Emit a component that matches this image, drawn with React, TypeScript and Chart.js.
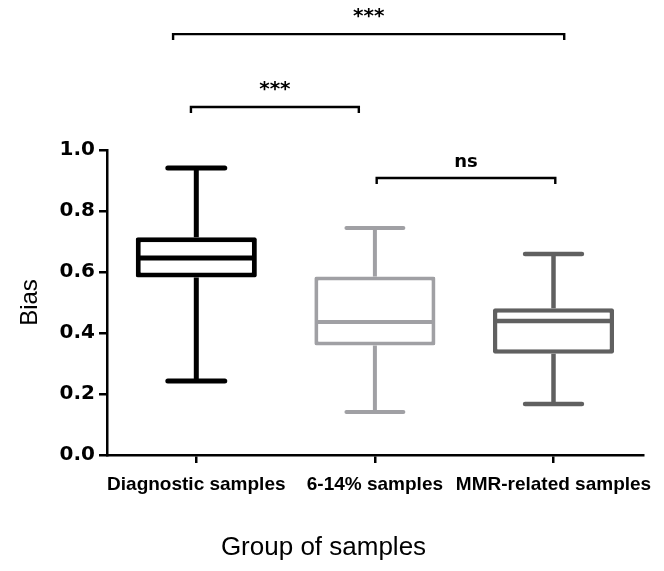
import React, { useEffect, useRef } from 'react';
import { Chart, registerables } from 'chart.js';

Chart.register(...registerables);

const categories = ['Diagnostic samples', '6-14% samples', 'MMR-related samples'];
const whiskerMin = [0.243, 0.141, 0.167];
const q1 = [0.582, 0.359, 0.332];
const medians = [0.646, 0.436, 0.439];
const q3 = [0.714, 0.585, 0.481];
const whiskerMax = [0.941, 0.744, 0.659];
const yTicks = [0, 0.2, 0.4, 0.6, 0.8, 1.0];

const boxColors = ['#000000', '#a0a0a4', '#606060'];
const lineWidths = [5, 4, 4.5];

const bracketStart = [-0.13, -0.03, 1.01];
const bracketEnd = [2.06, 0.91, 2.01];
const bracketLevel = [1.38, 1.141, 0.908];
const bracketLabels = ['***', '***', 'ns'];

const boxPlugin = {
  id: 'boxWhiskers',
  afterDatasetsDraw(chart: any) {
    const { ctx, scales } = chart;
    const x = scales.x;
    const y = scales.y;
    const meta = chart.getDatasetMeta(0);
    ctx.save();
    categories.forEach((_, i) => {
      const bar = meta.data[i];
      const cx = x.getPixelForValue(i);
      const half = bar.width / 2;
      const capHalf = half * 0.47;
      const lw = lineWidths[i];
      ctx.strokeStyle = boxColors[i];
      ctx.lineWidth = lw;
      const seg = (x1: number, y1: number, x2: number, y2: number) => {
        ctx.beginPath();
        ctx.moveTo(x1, y1);
        ctx.lineTo(x2, y2);
        ctx.stroke();
      };
      const yMax = y.getPixelForValue(whiskerMax[i]);
      const yMin = y.getPixelForValue(whiskerMin[i]);
      const yQ1 = y.getPixelForValue(q1[i]);
      const yQ3 = y.getPixelForValue(q3[i]);
      const yMed = y.getPixelForValue(medians[i]);
      ctx.lineCap = 'butt';
      seg(cx, yQ3, cx, yMax);
      seg(cx, yQ1, cx, yMin);
      seg(cx - half + lw / 2, yMed, cx + half - lw / 2, yMed);
      ctx.lineCap = 'round';
      seg(cx - capHalf, yMax, cx + capHalf, yMax);
      seg(cx - capHalf, yMin, cx + capHalf, yMin);
    });
    ctx.restore();
  },
};

const bracketPlugin = {
  id: 'sigBrackets',
  afterDraw(chart: any) {
    const { ctx, scales } = chart;
    const x = scales.x;
    const y = scales.y;
    ctx.save();
    ctx.strokeStyle = '#000';
    ctx.fillStyle = '#000';
    ctx.lineWidth = 2.4;
    ctx.lineCap = 'butt';
    ctx.lineJoin = 'miter';
    bracketLabels.forEach((label, i) => {
      const x1 = x.getPixelForValue(bracketStart[i]);
      const x2 = x.getPixelForValue(bracketEnd[i]);
      const yy = y.getPixelForValue(bracketLevel[i]);
      ctx.beginPath();
      ctx.moveTo(x1, yy + 6);
      ctx.lineTo(x1, yy);
      ctx.lineTo(x2, yy);
      ctx.lineTo(x2, yy + 6);
      ctx.stroke();
      ctx.textAlign = 'center';
      ctx.textBaseline = 'alphabetic';
      ctx.font = label === 'ns' ? 'bold 18px "DejaVu Sans"' : 'bold 20px "DejaVu Sans"';
      ctx.fillText(label, (x1 + x2) / 2, yy - (label === 'ns' ? 11 : 12));
    });
    ctx.restore();
  },
};

export default function App() {
  const canvasRef = useRef<HTMLCanvasElement | null>(null);

  useEffect(() => {
    if (!canvasRef.current) return;
    const titleFontSize = 26;
    const titlePadBottom = 8;
    const titleBox = titleFontSize * 1.2 + titlePadBottom;
    const chart = new Chart(canvasRef.current, {
      type: 'bar',
      data: {
        labels: categories,
        datasets: [
          {
            data: q1.map((v, i) => [v, q3[i]]) as any,
            backgroundColor: '#ffffff',
            borderColor: boxColors,
            borderWidth: lineWidths,
            borderSkipped: false,
            borderRadius: 2,
            barPercentage: 0.678,
            categoryPercentage: 1,
          },
        ],
      },
      options: {
        animation: false,
        responsive: false,
        layout: { padding: { top: 150, right: 17, left: 0, bottom: 0 } },
        plugins: {
          legend: { display: false },
          tooltip: { enabled: false },
          title: {
            display: true,
            position: 'bottom',
            text: 'Group of samples',
            color: '#000',
            font: { family: '"Liberation Sans", Arial', size: titleFontSize, weight: 'normal' },
            padding: { top: 0, bottom: titlePadBottom },
          },
        },
        scales: {
          x: {
            offset: true,
            grid: {
              offset: false,
              drawOnChartArea: false,
              drawTicks: true,
              tickLength: 8,
              color: '#000',
              lineWidth: 2.5,
            },
            border: { display: true, color: '#000', width: 2.5 },
            ticks: {
              color: '#000',
              font: { family: '"Liberation Sans", Arial', size: 19, weight: 'bold' },
              padding: 10,
              maxRotation: 0,
              autoSkip: false,
            },
            afterFit: (scale: any) => {
              scale.height = 571 - 455 - titleBox;
            },
          },
          y: {
            min: 0,
            max: 1,
            afterBuildTicks: (scale: any) => {
              scale.ticks = yTicks.map((v) => ({ value: v }));
            },
            grid: {
              drawOnChartArea: false,
              drawTicks: true,
              tickLength: 8,
              color: '#000',
              lineWidth: 2.5,
            },
            border: { display: true, color: '#000', width: 2.5 },
            ticks: {
              color: '#000',
              font: { family: '"DejaVu Sans"', size: 20, weight: 'bold' },
              padding: 4,
              callback: (v: any) => Number(v).toFixed(1),
            },
            title: {
              display: true,
              text: 'Bias',
              color: '#000',
              font: { family: '"Liberation Sans", Arial', size: 24, weight: 'normal' },
              padding: { top: 16, bottom: 0 },
            },
            afterFit: (scale: any) => {
              scale.width = 107;
            },
          },
        },
      },
      plugins: [boxPlugin, bracketPlugin],
    });
    return () => chart.destroy();
  }, []);

  return (
    <div style={{ position: 'fixed', left: 0, top: 0, width: 664, height: 571, background: '#fff' }}>
      <canvas ref={canvasRef} width={664} height={571} style={{ display: 'block' }} />
    </div>
  );
}
